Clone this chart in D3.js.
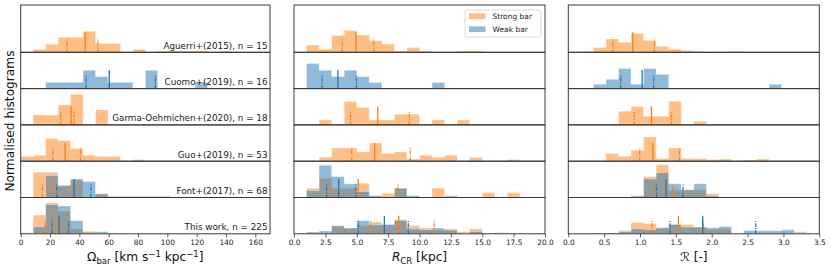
<!DOCTYPE html>
<html>
<head>
<meta charset="utf-8">
<script src="https://cdn.jsdelivr.net/npm/d3@7"></script>
<style>
  body { margin: 0; background: #fff; }
  svg { display: block; font-family: "DejaVu Sans", sans-serif; }
</style>
</head>
<body>
<svg width="831" height="271"></svg>
<script>
// samples, top row to bottom row
const studies = [
  "Aguerri+(2015), n = 15",
  "Cuomo+(2019), n = 16",
  "Garma-Oehmichen+(2020), n = 18",
  "Guo+(2019), n = 53",
  "Font+(2017), n = 68",
  "This work, n = 225"
];

// normalised histograms, 20 bins over the x range (null = no sample of that kind)
const omegaStrong = [
  [0, 0.3, 0.8, 1.5, 1.5, 2.1, 0.87, 0.87, 0, 0.3, 0, 0.13, 0.13, 0.13, 0.13, 0, 0.13, 0, 0, 0],
  null,
  [0, 1.0, 1.0, 2.0, 3.07, 0, 1.5, 0, 0, 0, 0, 0, 0, 0, 0, 0, 0, 0, 0, 0],
  [0.47, 0.6, 2.27, 2.07, 1.27, 0.6, 0.47, 0.47, 0, 0.17, 0, 0, 0, 0, 0, 0, 0, 0, 0, 0],
  [0, 2.53, 2.53, 1.2, 1.75, 0, 0.37, 0, 0, 0, 0, 0, 0, 0, 0, 0, 0, 0, 0, 0],
  [0.1, 1.87, 3.1, 2.27, 0.5, 0.25, 0, 0, 0, 0, 0, 0, 0, 0, 0, 0, 0, 0, 0, 0]
];
const omegaWeak = [
  null,
  [0, 0, 0.63, 0.63, 0.63, 1.83, 1.2, 0.63, 0.63, 0, 1.83, 0, 0, 0, 0.63, 0, 0, 0, 0, 0],
  null,
  null,
  [0, 0, 2.2, 1.2, 1.85, 1.6, 0.37, 0.13, 0.13, 0.13, 0.13, 0.13, 0, 0, 0, 0, 0, 0, 0, 0],
  [0, 0.7, 2.93, 2.77, 1.33, 0.15, 0.2, 0, 0, 0, 0, 0, 0, 0, 0, 0, 0, 0, 0, 0]
];
const rcrStrong = [
  [0, 0.73, 0.33, 1.67, 2.17, 1.73, 1.17, 0.83, 0.13, 0.47, 0.13, 0, 0, 0.13, 0.13, 0, 0, 0, 0, 0],
  null,
  [0, 0, 0.5, 0, 2.33, 1.73, 0.5, 0.5, 1.07, 1.07, 0, 0.5, 0, 0.5, 0, 0, 0, 0, 0, 0],
  [0, 0, 0.4, 1.33, 1.33, 0.93, 1.83, 0.77, 0.93, 0.23, 0.6, 0.4, 0.6, 0, 0.37, 0, 0, 0.17, 0, 0],
  [0, 0.93, 1.9, 0.93, 0.93, 1.43, 0, 0.43, 0.93, 0, 0, 0.93, 0, 0, 0, 0.47, 0, 0.47, 0, 0],
  [0, 0, 0, 0.8, 0.57, 0.83, 1.17, 0.93, 1.43, 0.83, 0.57, 0.37, 0.5, 0.2, 0.5, 0, 0.13, 0.05, 0, 0]
];
const rcrWeak = [
  null,
  [0, 2.5, 1.83, 1.2, 1.83, 1.2, 0.6, 0, 0, 0, 0, 0.6, 0, 0, 0, 0, 0, 0, 0, 0],
  null,
  null,
  [0, 0.7, 3.23, 2.1, 1.37, 0.6, 0.2, 0, 0.93, 0.2, 0, 0, 0.17, 0, 0, 0, 0, 0, 0, 0],
  [0, 0.17, 0.27, 0.8, 0.57, 1.33, 0.9, 0.93, 1.33, 0.5, 0.43, 0.57, 0.37, 0, 0.23, 0.05, 0, 0, 0, 0]
];
const ratioStrong = [
  [0, 0.07, 0.47, 1.33, 1.0, 1.9, 1.17, 0.6, 0.33, 0.17, 0.07, 0, 0, 0.07, 0, 0, 0, 0, 0, 0],
  null,
  [0, 0, 0, 0, 1.37, 1.83, 0.87, 0.87, 2.37, 0, 0.37, 0, 0, 0, 0, 0, 0, 0, 0, 0],
  [0, 0, 0, 0.77, 0.5, 1.1, 2.43, 0.27, 1.33, 0.27, 0.27, 0.17, 0.23, 0, 0.13, 0.23, 0, 0, 0, 0],
  [0, 0, 0, 0, 0, 0, 2.1, 3.27, 0.77, 0.77, 0.77, 0.4, 0, 0, 0, 0, 0, 0, 0, 0],
  [0, 0, 0, 0, 0.33, 1.13, 1.0, 0.6, 0.93, 0.93, 0.67, 0.43, 0.5, 0, 0, 0, 0, 0.1, 0.2, 0]
];
const ratioWeak = [
  null,
  [0, 0, 0.43, 0.93, 2.0, 0.43, 2.0, 1.43, 0, 0, 0, 0, 0, 0, 0, 0, 0.43, 0, 0, 0],
  null,
  null,
  [0, 0, 0, 0, 0, 0.17, 1.87, 2.5, 1.37, 0.77, 1.37, 0.17, 0, 0, 0, 0, 0, 0, 0, 0],
  [0, 0, 0.05, 0.07, 0.2, 0.5, 0.43, 0.6, 0.93, 0.67, 0.67, 0.6, 0.73, 0, 0.33, 0.3, 0.3, 0.4, 0, 0]
];

// [first quartile, median, third quartile]
const omegaStrongQ = [[31.5, 44, 52.6], null, [27.3, 34.4, 36.4], [21.9, 30.3, 40.8], [14.8, 22.3, 34.2], [16.8, 23.5, 28.5]];
const omegaWeakQ = [null, [44.6, 60.4, 91.8], null, null, [24.6, 36.4, 47.9], [21.4, 26.2, 32.6]];
const rcrStrongQ = [[3.85, 4.94, 6.35], null, [4.51, 6.67, 9.19], [4.6, 6.43, 9.27], [2.97, 5.12, 8.26], [6.11, 8.34, 11.18]];
const rcrWeakQ = [null, [2.23, 3.5, 4.97], null, null, [2.6, 3.56, 4.94], [5.13, 7.2, 9.11]];
const ratioStrongQ = [[0.623, 0.898, 1.2], null, [0.92, 1.16, 1.44], [0.995, 1.18, 1.55], [1.22, 1.35, 1.456], [1.167, 1.535, 1.88]];
const ratioWeakQ = [null, [0.73, 1.03, 1.19], null, null, [1.23, 1.363, 1.6], [1.418, 1.874, 2.613]];

// how tall the quartile / median markers are drawn, per row
const quartileLineH = [1.45, 1.4, 1.4, 1.4, 1.4, 1.35];
const medianLineH = [2.0, 1.85, 1.85, 1.85, 1.85, 1.8];

// tick labels
const omegaTicks = [0, 20, 40, 60, 80, 100, 120, 140, 160];
const rcrTicks = [0, 2.5, 5, 7.5, 10, 12.5, 15, 17.5, 20];
const ratioTicks = [0, 0.5, 1, 1.5, 2, 2.5, 3, 3.5];

const legendLabels = ["Strong bar", "Weak bar"];
const orange = "#ff7f0e", blue = "#1f77b4";

const svg = d3.select("svg");
const plotTop = 5;
const rowH = [47.3, 36.3, 36.3, 36.3, 36.3, 36.3];
const rowY = [plotTop];
rowH.forEach((h, i) => rowY.push(rowY[i] + h));
const plotBottom = rowY[rowY.length - 1];

const panels = [
  { x0: 20.7, x1: 270, dom: [0, 170], strong: omegaStrong, weak: omegaWeak,
    sq: omegaStrongQ, wq: omegaWeakQ, ticks: omegaTicks, fmt: d3.format("d") },
  { x0: 294, x1: 545, dom: [0, 20], strong: rcrStrong, weak: rcrWeak,
    sq: rcrStrongQ, wq: rcrWeakQ, ticks: rcrTicks, fmt: d3.format(".1f") },
  { x0: 568.3, x1: 819.3, dom: [0, 3.5], strong: ratioStrong, weak: ratioWeak,
    sq: ratioStrongQ, wq: ratioWeakQ, ticks: ratioTicks, fmt: d3.format(".1f") }
];

panels.forEach((p, pi) => {
  const x = d3.scaleLinear().domain(p.dom).range([p.x0, p.x1]);
  const g = svg.append("g");

  studies.forEach((s, i) => {
    const y = d3.scaleLinear().domain([0, rowH[i] / 10]).range([rowY[i + 1], rowY[i]]);
    const rowG = g.append("g");

    //histograms, strong first so weak sits on top
    [[p.strong[i], orange], [p.weak[i], blue]].forEach(([hist, col]) => {
      if (!hist) return;
      const w = (p.dom[1] - p.dom[0]) / hist.length;
      const pts = hist.map((h, k) => ({ x: p.dom[0] + k * w, h: h }));
      pts.push({ x: p.dom[1], h: hist[hist.length - 1] });
      const area = d3.area()
        .x(d => x(d.x))
        .y0(y(0))
        .y1(d => y(d.h))
        .curve(d3.curveStepAfter);
      rowG.append("path")
        .attr("d", area(pts))
        .attr("fill", col)
        .attr("fill-opacity", 0.5)
        .attr("stroke", "#fff")
        .attr("stroke-opacity", 0.35)
        .attr("stroke-width", 1);
    });

    //quartile and median markers
    [[p.sq[i], orange], [p.wq[i], blue]].forEach(([q, col]) => {
      if (!q) return;
      q.forEach((v, j) => {
        const isMed = j === 1;
        rowG.append("line")
          .attr("x1", x(v)).attr("x2", x(v))
          .attr("y1", y(0))
          .attr("y2", y(isMed ? medianLineH[i] : quartileLineH[i]))
          .attr("stroke", col)
          .attr("stroke-width", 1.3)
          .attr("stroke-dasharray", isMed ? null : "3.5,1.3,1,1.3");
      });
    });

    //frame
    g.append("rect")
      .attr("x", p.x0).attr("y", rowY[i])
      .attr("width", p.x1 - p.x0).attr("height", rowH[i])
      .attr("fill", "none")
      .attr("stroke", "#3a3a3a")
      .attr("stroke-width", 1);

    if (pi === 0) {
      g.append("text")
        .attr("x", p.x1 - 2.5)
        .attr("y", rowY[i + 1] - 3.5)
        .attr("text-anchor", "end")
        .attr("font-size", 8.8)
        .attr("fill", "#222")
        .text(s);
    }
  });

  //x axis
  const axis = g.append("g")
    .attr("transform", `translate(0, ${plotBottom})`)
    .call(d3.axisBottom(x).tickValues(p.ticks).tickSize(3.5).tickPadding(2).tickFormat(p.fmt));
  axis.select(".domain").remove();
  axis.selectAll("line").attr("stroke", "#333").attr("stroke-width", 0.8);
  axis.selectAll("text").attr("font-size", 7.4).attr("fill", "#222")
    .attr("font-family", "DejaVu Sans, sans-serif");
});

//axis labels
const xl1 = svg.append("text").attr("x", 145.3).attr("y", 261).attr("text-anchor", "middle")
  .attr("font-size", 12.2).attr("fill", "#111");
xl1.append("tspan").text("Ω");
xl1.append("tspan").attr("font-size", 8.5).attr("dy", 2.5).text("bar");
xl1.append("tspan").attr("dy", -2.5).text(" [km s");
xl1.append("tspan").attr("font-size", 8.5).attr("dy", -4.5).text("−1");
xl1.append("tspan").attr("dy", 4.5).text(" kpc");
xl1.append("tspan").attr("font-size", 8.5).attr("dy", -4.5).text("−1");
xl1.append("tspan").attr("dy", 4.5).text("]");

const xl2 = svg.append("text").attr("x", 419.5).attr("y", 261).attr("text-anchor", "middle")
  .attr("font-size", 12.2).attr("fill", "#111");
xl2.append("tspan").attr("font-style", "italic").text("R");
xl2.append("tspan").attr("font-size", 8.5).attr("dy", 2.5).text("CR");
xl2.append("tspan").attr("dy", -2.5).text(" [kpc]");

svg.append("text").attr("x", 693.8).attr("y", 261).attr("text-anchor", "middle")
  .attr("font-size", 12.2).attr("fill", "#111")
  .text("ℛ [-]");

svg.append("text")
  .attr("transform", "translate(13.5, 121) rotate(-90)")
  .attr("text-anchor", "middle")
  .attr("font-size", 12.2)
  .attr("fill", "#111")
  .text("Normalised histograms");

//legend
const leg = svg.append("g");
leg.append("rect")
  .attr("x", 465).attr("y", 10).attr("width", 76).attr("height", 27).attr("rx", 2)
  .attr("fill", "#fff").attr("fill-opacity", 0.8)
  .attr("stroke", "#d0d0d0").attr("stroke-width", 0.8);
legendLabels.forEach((lab, i) => {
  leg.append("rect")
    .attr("x", 469).attr("y", 13.3 + i * 13).attr("width", 16.5).attr("height", 5.8)
    .attr("fill", i === 0 ? orange : blue).attr("fill-opacity", 0.5);
  leg.append("text")
    .attr("x", 492.5).attr("y", 19 + i * 13)
    .attr("font-size", 7.5).attr("fill", "#222")
    .text(lab);
});
</script>
</body>
</html>
